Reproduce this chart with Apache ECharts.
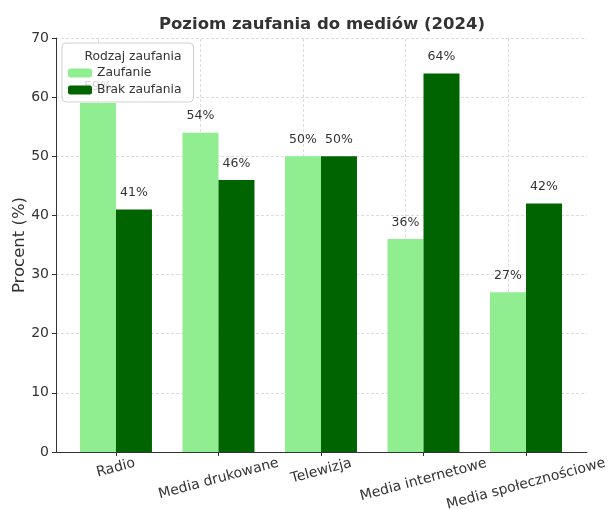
<!DOCTYPE html>
<html>
<head>
<meta charset="utf-8">
<script src="https://cdn.jsdelivr.net/npm/echarts@6/dist/echarts.min.js"></script>
<style>
  html, body { margin: 0; padding: 0; background: #fff; }
  #main { width: 611px; height: 510px; }
</style>
</head>
<body>
<div id="main"></div>
<script>
// dane
var categories = ['Radio', 'Media drukowane', 'Telewizja', 'Media internetowe', 'Media społecznościowe'];
var seriesNames = ['Zaufanie', 'Brak zaufania'];
var trustValues = [59, 54, 50, 36, 27];
var distrustValues = [41, 46, 50, 64, 42];
var yTicks = [0, 10, 20, 30, 40, 50, 60, 70];

var colors = ['#90ee90', '#006400'];
var FONT = 'DejaVu Sans';
var LABEL_SIZE = 14;
var ROT = 15;

// pozycje kategorii 0..n-1 na osi liczbowej
function toPairs(values) {
    return values.map(function (v, i) { return [i, v]; });
}
var catIdx = categories.map(function (c, i) { return i; });

// obrocone etykiety jak w matplotlib (ha=center): przesuniecie zalezne od dlugosci tekstu
var ctx = document.createElement('canvas').getContext('2d');
ctx.font = LABEL_SIZE + 'px "' + FONT + '"';
var sinR = Math.sin(ROT * Math.PI / 180), cosR = Math.cos(ROT * Math.PI / 180);
var richLabels = {};
categories.forEach(function (c, i) {
    var w = ctx.measureText(c).width;
    var h = LABEL_SIZE * 1.15;
    var d = (w * sinR + h * cosR) / 2;
    richLabels['c' + i] = {
        fontFamily: FONT,
        fontSize: LABEL_SIZE,
        color: '#333',
        padding: [Math.round(2 * d * cosR), Math.round(2 * d * sinR), 0, 0]
    };
});

var chart = echarts.init(document.getElementById('main'));

var labelStyle = {
    show: true,
    position: 'top',
    distance: 10,
    formatter: function (p) { return p.value[1] + '%'; },
    fontFamily: FONT,
    fontSize: 12.5,
    color: '#333'
};

chart.setOption({
    animation: false,
    textStyle: { fontFamily: FONT },
    title: [
        {
            text: 'Poziom zaufania do mediów (2024)',
            left: 317,
            top: 11,
            textAlign: 'center',
            textStyle: { fontFamily: FONT, fontSize: 16.5, fontWeight: 'bold', color: '#333' }
        },
        {
            text: 'Rodzaj zaufania',
            left: 128,
            top: 46,
            textAlign: 'center',
            z: 10,
            textStyle: { fontFamily: FONT, fontSize: 12.3, fontWeight: 'normal', color: '#333' }
        }
    ],
    legend: {
        data: seriesNames,
        orient: 'vertical',
        left: 62,
        top: 43,
        z: 8,
        backgroundColor: 'rgba(255,255,255,0.8)',
        borderColor: '#d0d0d0',
        borderWidth: 1,
        borderRadius: 4,
        padding: [24, 12, 6, 6],
        itemWidth: 24,
        itemHeight: 9,
        itemGap: 5,
        textStyle: { fontFamily: FONT, fontSize: 12.3, color: '#333' }
    },
    grid: { left: 56, right: 24, top: 38, bottom: 58, outerBoundsMode: 'none', containLabel: false },
    xAxis: {
        type: 'value',
        min: -0.585,
        max: 4.595,
        axisLine: { show: true, onZero: false, lineStyle: { color: '#333', width: 1 } },
        axisTick: { show: true, length: 4, customValues: catIdx, lineStyle: { color: '#333' } },
        splitLine: { show: false },
        axisLabel: {
            customValues: catIdx,
            rotate: ROT,
            align: 'center',
            verticalAlign: 'middle',
            margin: 3,
            fontFamily: FONT,
            fontSize: LABEL_SIZE,
            color: '#333',
            rich: richLabels,
            formatter: function (v) {
                var i = Math.round(v);
                return '{c' + i + '|' + categories[i] + '}';
            }
        }
    },
    yAxis: {
        type: 'value',
        min: yTicks[0],
        max: yTicks[yTicks.length - 1],
        interval: 10,
        name: 'Procent (%)',
        nameLocation: 'middle',
        nameGap: 28,
        nameMoveOverlap: false,
        nameTextStyle: { fontFamily: FONT, fontSize: 16.5, color: '#333' },
        axisLine: { show: true, onZero: false, lineStyle: { color: '#333', width: 1 } },
        axisTick: { show: true, length: 4, lineStyle: { color: '#333' } },
        axisLabel: { fontFamily: FONT, fontSize: 14, color: '#333', margin: 7 },
        splitLine: { show: true, lineStyle: { color: '#dcdcdc', type: [3, 2] } }
    },
    series: [
        {
            name: seriesNames[0],
            type: 'bar',
            barWidth: 36,
            barGap: '0%',
            z: 2,
            itemStyle: { color: colors[0] },
            label: labelStyle,
            data: toPairs(trustValues),
            markLine: {
                silent: true,
                symbol: 'none',
                z: 1,
                label: { show: false },
                lineStyle: { color: '#dcdcdc', type: [3, 2], width: 1 },
                data: catIdx.map(function (i) { return { xAxis: i }; })
            }
        },
        {
            name: seriesNames[1],
            type: 'bar',
            barWidth: 36,
            barGap: '0%',
            z: 2,
            itemStyle: { color: colors[1] },
            label: labelStyle,
            data: toPairs(distrustValues)
        }
    ]
});
</script>
</body>
</html>
